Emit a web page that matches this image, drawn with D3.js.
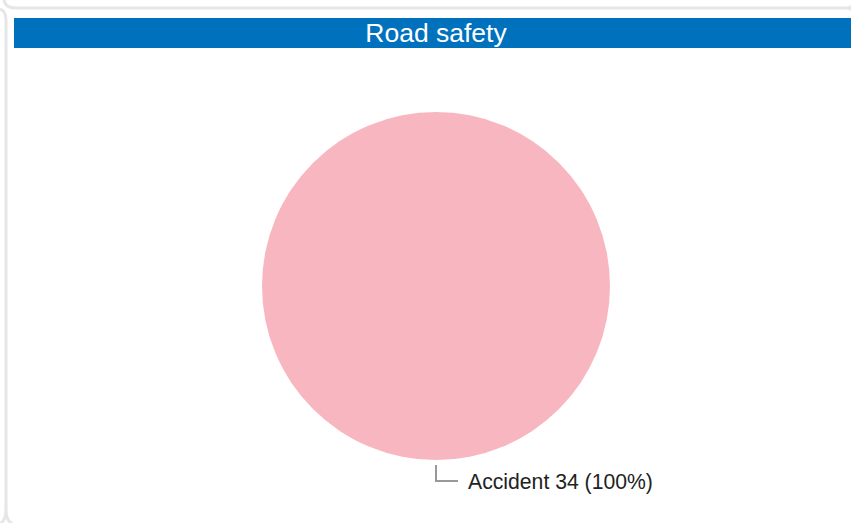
<!DOCTYPE html>
<html><head><meta charset="utf-8">
<script src="https://cdn.jsdelivr.net/npm/d3@7"></script>
<style>html,body{margin:0;padding:0;background:#fff;overflow:hidden}svg{display:block}</style>
</head><body>
<svg id="c" width="851" height="523"></svg>
<script>
const title = "Road safety";
const categories = ["Accident"];
const values = [34];
const colors = ["#F8B7C0"];

const svg = d3.select("#c");
const W = 851, H = 523;

// decorative panel borders
const border = "#e6e6e6";
const g0 = svg.append("g").attr("fill","none").attr("stroke",border).attr("stroke-width",3);
g0.append("path").attr("d","M4,-2 Q4,8 16,8 L847,8 Q851,8 853,4");
g0.append("path").attr("d","M847,8 Q851,8 853,12");
g0.append("path").attr("d","M-2,9 Q6,9 6,20 L6,511 Q6,521 -2,525");
g0.append("path").attr("d","M6,511 Q6,521 14,525");

// title bar
svg.append("rect").attr("x",14).attr("y",18).attr("width",W-14).attr("height",30).attr("fill","#0071BC");
svg.append("text").attr("x",436).attr("y",42).attr("text-anchor","middle")
  .attr("font-family","Liberation Sans, Arial, sans-serif").attr("font-size",26.5).attr("fill","#fff").text(title);

// pie
const cx = 436, cy = 286, r = 174;
const total = d3.sum(values);
const pie = d3.pie().sort(null)(values);
const arc = d3.arc().innerRadius(0).outerRadius(r);
const gp = svg.append("g").attr("transform",`translate(${cx},${cy})`);
gp.selectAll("path").data(pie).join("path").attr("d",arc).attr("fill",(d,i)=>colors[i]);

// label with leader
pie.forEach((d,i)=>{
  const mid = (d.startAngle + d.endAngle)/2;
  const px = Math.sin(mid)*(r+5), py = -Math.cos(mid)*(r+5);
  const ly = py + 16;
  gp.append("path").attr("d",`M${px},${py} L${px},${ly} L${px+22},${ly}`)
    .attr("fill","none").attr("stroke","#999").attr("stroke-width",2);
  gp.append("text").attr("x",px+32).attr("y",ly+7.5)
    .attr("font-family","Liberation Sans, Arial, sans-serif").attr("font-size",21.2).attr("fill","#222")
    .text(`${categories[i]} ${values[i]} (${Math.round(values[i]/total*100)}%)`);
});
</script>
</body></html>
